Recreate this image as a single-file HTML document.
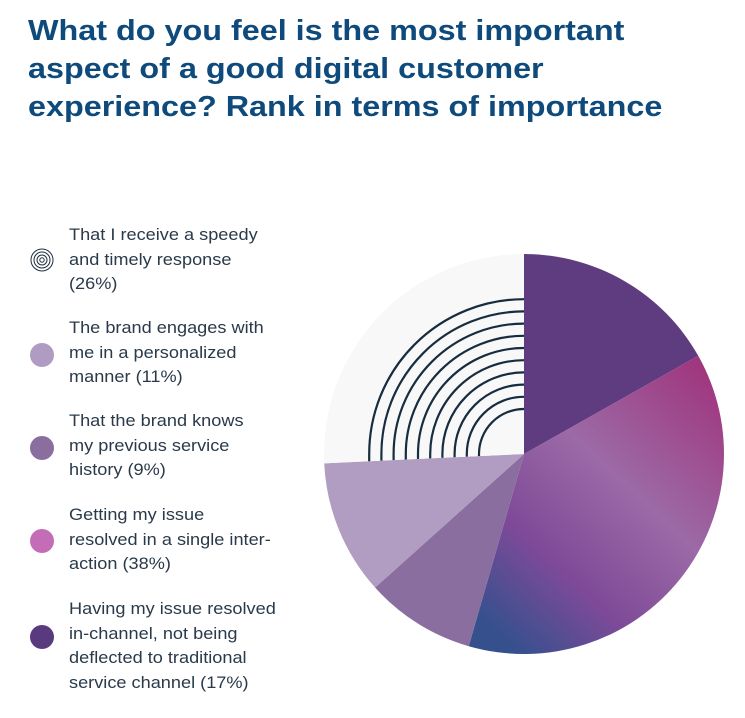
<!DOCTYPE html>
<html><head><meta charset="utf-8"><style>
body{margin:0;width:745px;height:718px;background:#fff;font-family:"Liberation Sans",sans-serif;overflow:hidden;position:relative}
h1{position:absolute;left:28px;top:12px;margin:0;font-size:29px;line-height:38px;color:#0e4b7c;font-weight:bold;white-space:nowrap;transform:scaleX(1.115);transform-origin:0 0}
.li{position:absolute;left:69px;font-size:16.5px;line-height:24.5px;color:#2a3a4a;width:240px;white-space:nowrap;transform:scaleX(1.1);transform-origin:0 0}
.ic{position:absolute;left:30px;width:24px;height:24px;border-radius:50%}
</style></head><body>
<h1>What do you feel is the most important<br>aspect of a good digital customer<br>experience? Rank in terms of importance</h1>
<div>
<svg class="ic" style="top:248px" viewBox="0 0 24 24"><g fill="none" stroke="#1e2e40" stroke-width="1"><circle cx="12" cy="12" r="11"/><circle cx="12" cy="12" r="8"/><circle cx="12" cy="12" r="5"/><circle cx="12" cy="12" r="2.2"/></g></svg>
<div class="li" style="top:223px">That I receive a speedy<br>and timely response<br>(26%)</div>
<div class="ic" style="top:343px;background:#b09cc2"></div>
<div class="li" style="top:316px">The brand engages with<br>me in a personalized<br>manner (11%)</div>
<div class="ic" style="top:436px;background:#8a6ea0"></div>
<div class="li" style="top:409px">That the brand knows<br>my previous service<br>history (9%)</div>
<div class="ic" style="top:529px;background:#c46cb6"></div>
<div class="li" style="top:503px">Getting my issue<br>resolved in a single inter-<br>action (38%)</div>
<div class="ic" style="top:625px;background:#5a3a7e"></div>
<div class="li" style="top:597px">Having my issue resolved<br>in-channel, not being<br>deflected to traditional<br>service channel (17%)</div>
</div>
<svg id="pie" width="745" height="718" style="position:absolute;left:0;top:0">
<defs><linearGradient id="pg" x1="1" y1="0" x2="0.2" y2="1"><stop offset="0" stop-color="#a02e78"/><stop offset="0.45" stop-color="#9c6aa6"/><stop offset="0.75" stop-color="#7e4a98"/><stop offset="1" stop-color="#36508e"/></linearGradient>
<clipPath id="gc"><path id="gcp"/></clipPath></defs>
</svg>
<script>
const labels=["In-channel","Single interaction","Service history","Personalized","Speedy response"];
const values=[17,38,9,11,26];
const colors=["#5f3b80","url(#pg)","#8a6e9f","#b09dc1","#f8f8f8"];
const cx=524,cy=454,R=200;
const svg=document.getElementById('pie');const NS="http://www.w3.org/2000/svg";
const tot=values.reduce((a,b)=>a+b,0);
function pt(a,r){return [cx+r*Math.sin(a),cy-r*Math.cos(a)];}
let a0=0;
values.forEach((v,i)=>{
 const a1=a0+v/tot*2*Math.PI;const p0=pt(a0,R),p1=pt(a1,R);
 const d=`M${cx},${cy}L${p0[0]},${p0[1]}A${R},${R} 0 ${a1-a0>Math.PI?1:0} 1 ${p1[0]},${p1[1]}Z`;
 const p=document.createElementNS(NS,'path');p.setAttribute('d',d);p.setAttribute('fill',colors[i]);
 
 
 svg.appendChild(p);
 if(i===values.length-1){
  document.getElementById('gcp').setAttribute('d',d);
  const g=document.createElementNS(NS,'g');g.setAttribute('clip-path','url(#gc)');
  
  
  for(let k=0;k<10;k++){const r=45+k*12.2;const c=document.createElementNS(NS,'path');
   c.setAttribute('d',`M${cx-r},${cy+20}L${cx-r},${cy}A${r},${r} 0 0 1 ${cx},${cy-r}`);
   c.setAttribute('fill','none');c.setAttribute('stroke','#172c3e');c.setAttribute('stroke-width','2.2');g.appendChild(c);}
  svg.appendChild(g);
 }
 a0=a1;
});
</script>
</body></html>
